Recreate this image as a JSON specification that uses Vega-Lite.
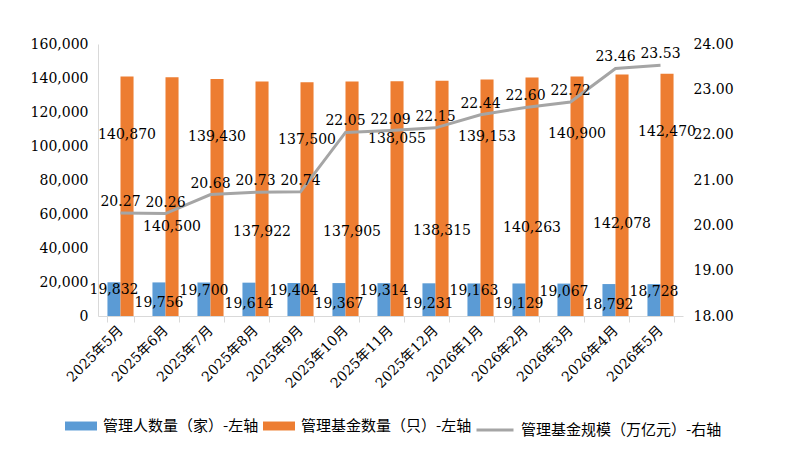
{
  "$schema": "https://vega.github.io/schema/vega-lite/v6.json",
  "autosize": "none",
  "padding": {"left": 98, "top": 44, "right": 109, "bottom": 135},
  "width": 585,
  "height": 272,
  "background": "white",
  "data": {
    "values": [
      {"month": "2025年5月", "managers": 19832, "funds": 140870, "scale": 20.27},
      {"month": "2025年6月", "managers": 19756, "funds": 140500, "scale": 20.26},
      {"month": "2025年7月", "managers": 19700, "funds": 139430, "scale": 20.68},
      {"month": "2025年8月", "managers": 19614, "funds": 137922, "scale": 20.73},
      {"month": "2025年9月", "managers": 19404, "funds": 137500, "scale": 20.74},
      {"month": "2025年10月", "managers": 19367, "funds": 137905, "scale": 22.05},
      {"month": "2025年11月", "managers": 19314, "funds": 138055, "scale": 22.09},
      {"month": "2025年12月", "managers": 19231, "funds": 138315, "scale": 22.15},
      {"month": "2026年1月", "managers": 19163, "funds": 139153, "scale": 22.44},
      {"month": "2026年2月", "managers": 19129, "funds": 140263, "scale": 22.60},
      {"month": "2026年3月", "managers": 19067, "funds": 140900, "scale": 22.72},
      {"month": "2026年4月", "managers": 18792, "funds": 142078, "scale": 23.46},
      {"month": "2026年5月", "managers": 18728, "funds": 142470, "scale": 23.53}
    ]
  },
  "encoding": {
    "x": {
      "field": "month",
      "type": "nominal",
      "sort": null,
      "title": null,
      "scale": {"paddingInner": 0.42, "paddingOuter": 0.21},
      "axis": {
        "labelAngle": -45,
        "labelAlign": "right",
        "labelBaseline": "middle",
        "labelPadding": 6,
        "labelFont": "'DejaVu Serif', 'Noto Sans CJK SC'",
        "labelFontSize": 14,
        "labelColor": "#000000",
        "tickBand": "extent",
        "tickSize": 6,
        "tickColor": "#d9d9d9",
        "domainColor": "#d9d9d9",
        "grid": false
      }
    }
  },
  "layer": [
    {
      "transform": [
        {"window": [{"op": "row_number", "as": "idx"}]},
        {"fold": ["managers", "funds"], "as": ["series", "value"]}
      ],
      "encoding": {
        "xOffset": {"field": "series", "type": "nominal", "sort": ["managers", "funds"], "scale": {"paddingInner": 0, "paddingOuter": 0}},
        "y": {
          "field": "value",
          "type": "quantitative",
          "title": null,
          "scale": {"domain": [0, 160000], "nice": false},
          "axis": {
            "values": [0, 20000, 40000, 60000, 80000, 100000, 120000, 140000, 160000],
            "format": ",.0f",
            "grid": false,
            "ticks": false,
            "labelPadding": 10,
            "labelFont": "DejaVu Serif",
            "labelFontSize": 14,
            "labelColor": "#000000",
            "domainColor": "#d9d9d9"
          }
        }
      },
      "layer": [
        {
          "mark": {"type": "bar"},
          "encoding": {
            "color": {
              "field": "series",
              "type": "nominal",
              "scale": {"domain": ["managers", "funds"], "range": ["#5b9bd5", "#ed7d31"]},
              "legend": {
                "orient": "none",
                "legendX": -33,
                "legendY": 366,
                "direction": "horizontal",
                "title": null,
                "labelExpr": "datum.label == 'managers' ? '管理人数量（家）-左轴' : '管理基金数量（只）-左轴'",
                "labelFont": "Noto Sans CJK SC",
                "labelFontSize": 15,
                "labelColor": "#000000",
                "labelLimit": 0,
                "labelOffset": 6,
                "columnPadding": 4,
                "symbolType": "M-1,-0.28H1V0.28H-1Z",
                "symbolSize": 1024,
                "symbolStrokeWidth": 0,
                "symbolOpacity": 1
              }
            }
          }
        },
        {
          "transform": [{"filter": "datum.series == 'managers' && datum.idx % 2 == 1"}],
          "mark": {"type": "text", "dy": 8, "font": "DejaVu Serif", "fontSize": 14, "color": "#000000"},
          "encoding": {"text": {"field": "value", "type": "quantitative", "format": ",.0f"}}
        },
        {
          "transform": [{"filter": "datum.series == 'managers' && datum.idx % 2 == 0"}],
          "mark": {"type": "text", "dy": 21, "font": "DejaVu Serif", "fontSize": 14, "color": "#000000"},
          "encoding": {"text": {"field": "value", "type": "quantitative", "format": ",.0f"}}
        },
        {
          "transform": [{"filter": "datum.series == 'funds' && datum.idx % 2 == 1"}],
          "mark": {"type": "text", "dy": 58, "font": "DejaVu Serif", "fontSize": 14, "color": "#000000"},
          "encoding": {"text": {"field": "value", "type": "quantitative", "format": ",.0f"}}
        },
        {
          "transform": [{"filter": "datum.series == 'funds' && datum.idx % 2 == 0"}],
          "mark": {"type": "text", "dy": 150, "font": "DejaVu Serif", "fontSize": 14, "color": "#000000"},
          "encoding": {"text": {"field": "value", "type": "quantitative", "format": ",.0f"}}
        }
      ]
    },
    {
      "encoding": {
        "y": {
          "field": "scale",
          "type": "quantitative",
          "title": null,
          "scale": {"domain": [18, 24], "nice": false, "zero": false},
          "axis": {
            "orient": "right",
            "values": [18, 19, 20, 21, 22, 23, 24],
            "format": ".2f",
            "grid": false,
            "ticks": false,
            "domain": false,
            "labelPadding": 10,
            "labelFont": "DejaVu Serif",
            "labelFontSize": 14,
            "labelColor": "#000000"
          }
        }
      },
      "layer": [
        {
          "mark": {"type": "line", "strokeWidth": 3},
          "encoding": {
            "stroke": {
              "datum": "管理基金规模（万亿元）-右轴",
              "type": "nominal",
              "scale": {"range": ["#a5a5a5"]},
              "legend": {
                "orient": "none",
                "legendX": 377,
                "legendY": 366,
                "title": null,
                "labelFont": "Noto Sans CJK SC",
                "labelFontSize": 15,
                "labelColor": "#000000",
                "labelLimit": 0,
                "labelOffset": 6,
                "symbolType": "stroke",
                "symbolSize": 1369,
                "symbolStrokeWidth": 3
              }
            }
          }
        },
        {
          "mark": {"type": "text", "dy": -11, "font": "DejaVu Serif", "fontSize": 14, "color": "#000000"},
          "encoding": {"text": {"field": "scale", "type": "quantitative", "format": ".2f"}}
        }
      ]
    }
  ],
  "resolve": {"scale": {"y": "independent"}},
  "config": {"view": {"stroke": null}}
}
